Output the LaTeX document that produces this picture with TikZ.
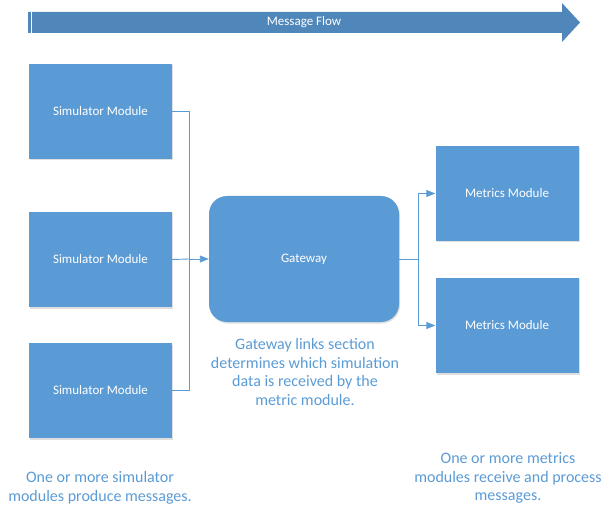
\documentclass[tikz,border=0pt]{standalone}
\usepackage{fontspec}
\setmainfont{Carlito}
\usetikzlibrary{arrows.meta,shadows}
\definecolor{boxblue}{HTML}{5B9BD5}
\definecolor{banner}{HTML}{4F87BA}
\definecolor{txtblue}{HTML}{5B9BD5}
\definecolor{lineblue}{HTML}{5B9BD5}
\begin{document}
\begin{tikzpicture}[x=1pt,y=-1pt,
  modbox/.style={fill=boxblue,draw=none,minimum width=143pt,minimum height=95pt,
    font=\fontsize{13}{15}\selectfont,text=white,
    drop shadow={shadow xshift=1pt,shadow yshift=-1.5pt,fill=black!25,opacity=0.5}},
  gwbox/.style={fill=boxblue,draw=none,rounded corners=18pt,minimum width=190pt,minimum height=126pt,
    font=\fontsize{13}{15}\selectfont,text=white,
    drop shadow={shadow xshift=1pt,shadow yshift=-1.5pt,fill=black!25,opacity=0.5}},
  caption/.style={text=txtblue,align=center,font=\fontsize{16}{18.5}\selectfont},
  conn/.style={draw=lineblue,line width=0.9pt},
  arr/.style={conn,-{Triangle[length=9pt,width=7pt]}}]
\useasboundingbox (0,0) rectangle (614,516);
% banner arrow
\fill[banner] (28,12) -- (562,12) -- (562,3) -- (580,22.5) -- (562,42) -- (562,33) -- (28,33) -- cycle;
\draw[white,line width=0.6pt] (31,12) -- (31,33);
\node[text=white,font=\fontsize{13}{15}\selectfont] (mf) at (304,22) {Message Flow};
% simulator modules
\node[modbox] (s1) at (100.5,111.5) {Simulator Module};
\node[modbox] (s2) at (100.5,259.5) {Simulator Module};
\node[modbox] (s3) at (100.5,390.5) {Simulator Module};
% gateway
\node[gwbox] (gw) at (304,259) {Gateway};
% metrics
\node[modbox] (m1) at (507,193.5) {Metrics Module};
\node[modbox] (m2) at (507,325.5) {Metrics Module};
% connectors
\coordinate (jl) at (189,259);
\coordinate (jr) at (418,259);
\draw[conn] (s1.east) -| (jl);
\draw[conn] (s3.east) -| (jl);
\draw[conn] (s2.east) -- (jl);
\draw[arr] (jl) -- (gw.west);
\draw[conn] (gw.east) -- (jr);
\draw[arr] (jr) |- (m1.west);
\draw[arr] (jr) |- (m2.west);
% captions
\node[caption] (cg) at (305,372) {Gateway links section\\determines which simulation\\data is received by the\\metric module.};
\node[caption] (cs) at (100,488) {One or more simulator\\modules produce messages.};
\node[caption] (cm) at (508,478) {One or more metrics\\modules receive and process\\messages.};
\end{tikzpicture}
\end{document}
